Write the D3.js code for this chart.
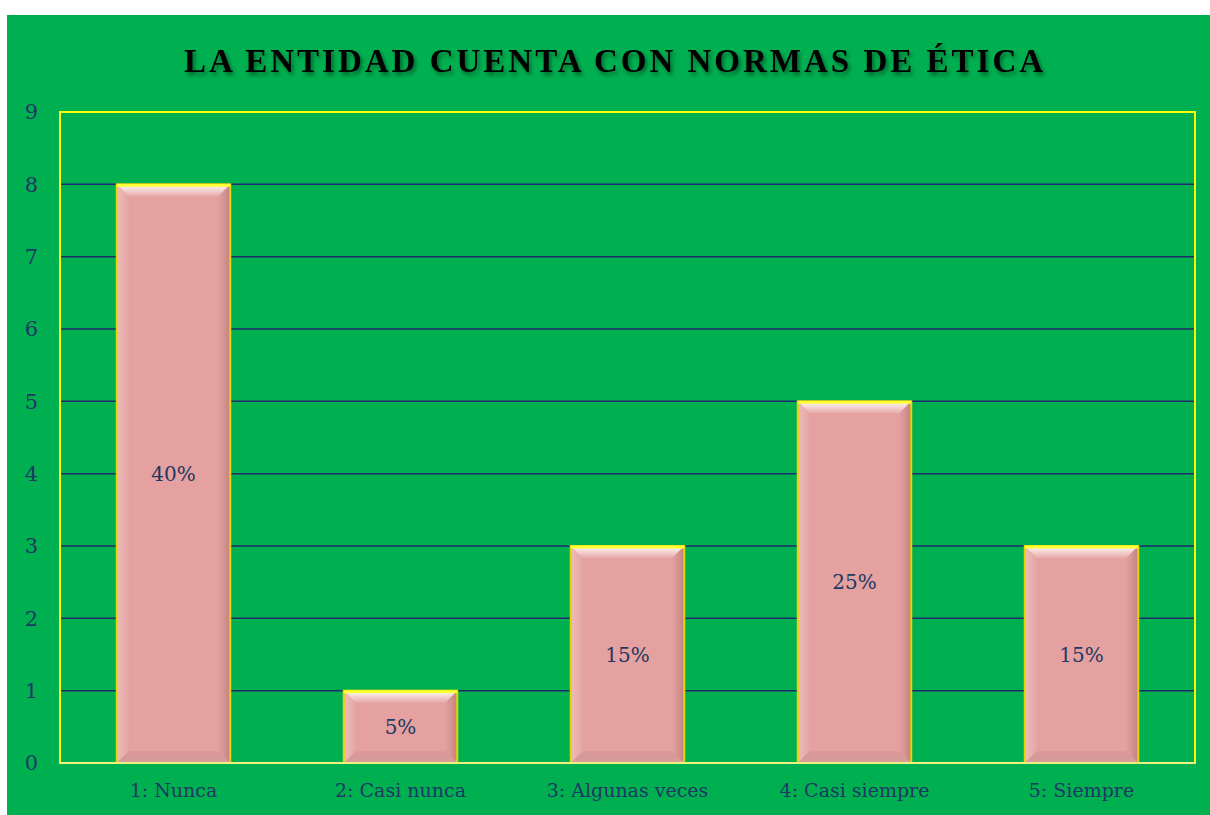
<!DOCTYPE html>
<html>
<head>
<meta charset="utf-8">
<script src="https://cdn.jsdelivr.net/npm/d3@7"></script>
<style>
  body { margin: 0; background: #ffffff; }
  text { font-family: "DejaVu Serif", "Liberation Serif", serif; }
</style>
</head>
<body>
<div id="chart"></div>
<script>
var categories = ["1: Nunca", "2: Casi nunca", "3: Algunas veces", "4: Casi siempre", "5: Siempre"];
var counts = [8, 1, 3, 5, 3];
var percentLabels = ["40%", "5%", "15%", "25%", "15%"];
var yTicks = [0, 1, 2, 3, 4, 5, 6, 7, 8, 9];
var title = "LA ENTIDAD CUENTA CON NORMAS DE ÉTICA";

var width = 1210, height = 815;
var plot = { left: 60, right: 1195, top: 112, bottom: 763 };

var svg = d3.select("#chart")
    .append("svg")
    .attr("width", width)
    .attr("height", height);

var defs = svg.append("defs");

// bevel gradients
var gTop = defs.append("linearGradient").attr("id", "bevTop")
    .attr("x1", 0).attr("y1", 0).attr("x2", 0).attr("y2", 1);
gTop.append("stop").attr("offset", "0%").attr("stop-color", "#ffffff").attr("stop-opacity", 0.95);
gTop.append("stop").attr("offset", "100%").attr("stop-color", "#ffffff").attr("stop-opacity", 0.1);

var gBot = defs.append("linearGradient").attr("id", "bevBot")
    .attr("x1", 0).attr("y1", 0).attr("x2", 0).attr("y2", 1);
gBot.append("stop").attr("offset", "0%").attr("stop-color", "#b07878").attr("stop-opacity", 0.15);
gBot.append("stop").attr("offset", "100%").attr("stop-color", "#c8a0a0").attr("stop-opacity", 0.55);

var gRight = defs.append("linearGradient").attr("id", "bevRight")
    .attr("x1", 0).attr("y1", 0).attr("x2", 1).attr("y2", 0);
gRight.append("stop").attr("offset", "0%").attr("stop-color", "#b07070").attr("stop-opacity", 0.05);
gRight.append("stop").attr("offset", "100%").attr("stop-color", "#8a5050").attr("stop-opacity", 0.4);

var gLeft = defs.append("linearGradient").attr("id", "bevLeft")
    .attr("x1", 0).attr("y1", 0).attr("x2", 1).attr("y2", 0);
gLeft.append("stop").attr("offset", "0%").attr("stop-color", "#ffffff").attr("stop-opacity", 0.3);
gLeft.append("stop").attr("offset", "100%").attr("stop-color", "#ffffff").attr("stop-opacity", 0.05);

var shadow = defs.append("filter").attr("id", "titleShadow")
    .attr("x", "-5%").attr("y", "-20%").attr("width", "110%").attr("height", "150%");
shadow.append("feDropShadow").attr("dx", 2).attr("dy", 3).attr("stdDeviation", 2)
    .attr("flood-color", "#000").attr("flood-opacity", 0.45);

// chart background
svg.append("rect")
    .attr("x", 7).attr("y", 15)
    .attr("width", width - 7).attr("height", height - 15)
    .attr("fill", "#00b050");

var x = d3.scaleBand()
    .domain(categories)
    .range([plot.left, plot.right])
    .paddingInner(0.5)
    .paddingOuter(0.25);

var y = d3.scaleLinear()
    .domain([0, 9])
    .range([plot.bottom, plot.top]);

// gridlines
svg.append("g")
    .selectAll("line")
    .data(yTicks.filter(function (d) { return d > 0 && d < 9; }))
    .join("line")
    .attr("x1", plot.left).attr("x2", plot.right)
    .attr("y1", function (d) { return y(d); })
    .attr("y2", function (d) { return y(d); })
    .attr("stroke", "#1f2a6e")
    .attr("stroke-width", 1.5);

// plot area border
svg.append("rect")
    .attr("x", plot.left).attr("y", plot.top)
    .attr("width", plot.right - plot.left)
    .attr("height", plot.bottom - plot.top)
    .attr("fill", "none")
    .attr("stroke", "#ffff00")
    .attr("stroke-width", 2);

// y axis
var yAxis = svg.append("g")
    .attr("transform", "translate(" + (plot.left - 22) + ",0)")
    .call(d3.axisLeft(y).tickValues(yTicks).tickSize(0).tickPadding(0));
yAxis.select(".domain").remove();
yAxis.selectAll("text")
    .attr("fill", "#1f3864")
    .style("font-size", "21px")
    .style("font-family", "DejaVu Serif, serif");

// x axis
var xAxis = svg.append("g")
    .attr("transform", "translate(0," + (plot.bottom + 20) + ")")
    .call(d3.axisBottom(x).tickSize(0).tickPadding(0));
xAxis.select(".domain").remove();
xAxis.selectAll("text")
    .attr("fill", "#1f3864")
    .attr("dy", "0.75em")
    .style("font-size", "19px")
    .style("font-family", "DejaVu Serif, serif");

// bars
var bev = 12;
var bars = svg.append("g")
    .selectAll("g")
    .data(categories)
    .join("g");

bars.each(function (c, i) {
    var g = d3.select(this);
    var x0 = x(c), w = x.bandwidth();
    var y0 = y(counts[i]), y1 = y(0);
    var h = y1 - y0;
    var b = Math.min(bev, h / 3);
    g.append("rect")
        .attr("x", x0).attr("y", y0)
        .attr("width", w).attr("height", h)
        .attr("fill", "#e4a19f");
    // top bevel
    g.append("path")
        .attr("d", "M" + x0 + "," + y0 + "L" + (x0 + w) + "," + y0 + "L" + (x0 + w - b) + "," + (y0 + b) + "L" + (x0 + b) + "," + (y0 + b) + "Z")
        .attr("fill", "url(#bevTop)");
    // left bevel
    g.append("path")
        .attr("d", "M" + x0 + "," + y0 + "L" + (x0 + b) + "," + (y0 + b) + "L" + (x0 + b) + "," + (y1 - b) + "L" + x0 + "," + y1 + "Z")
        .attr("fill", "url(#bevLeft)");
    // right bevel
    g.append("path")
        .attr("d", "M" + (x0 + w) + "," + y0 + "L" + (x0 + w - b) + "," + (y0 + b) + "L" + (x0 + w - b) + "," + (y1 - b) + "L" + (x0 + w) + "," + y1 + "Z")
        .attr("fill", "url(#bevRight)");
    // bottom bevel
    g.append("path")
        .attr("d", "M" + x0 + "," + y1 + "L" + (x0 + b) + "," + (y1 - b) + "L" + (x0 + w - b) + "," + (y1 - b) + "L" + (x0 + w) + "," + y1 + "Z")
        .attr("fill", "url(#bevBot)");
    // yellow edges
    g.append("rect")
        .attr("x", x0).attr("y", y0)
        .attr("width", w).attr("height", h)
        .attr("fill", "none")
        .attr("stroke", "#e6d400")
        .attr("stroke-width", 2);
    g.append("line")
        .attr("x1", x0).attr("x2", x0 + w)
        .attr("y1", y0 + 1).attr("y2", y0 + 1)
        .attr("stroke", "#ffff33").attr("stroke-width", 3);
    // data label
    g.append("text")
        .attr("x", x0 + w / 2)
        .attr("y", (y0 + y1) / 2)
        .attr("dy", "0.35em")
        .attr("text-anchor", "middle")
        .attr("fill", "#1f3864")
        .style("font-size", "20px")
        .text(percentLabels[i]);
});

// bottom axis line (light)
svg.append("line")
    .attr("x1", plot.left).attr("x2", plot.right)
    .attr("y1", plot.bottom).attr("y2", plot.bottom)
    .attr("stroke", "#f0f080").attr("stroke-width", 2);

// title
svg.append("text")
    .attr("x", 615)
    .attr("y", 72)
    .attr("text-anchor", "middle")
    .attr("fill", "#000000")
    .attr("filter", "url(#titleShadow)")
    .style("font-family", "Liberation Serif, serif")
    .style("font-size", "33px")
    .style("font-weight", "bold")
    .style("letter-spacing", "3px")
    .text(title);
</script>
</body>
</html>
